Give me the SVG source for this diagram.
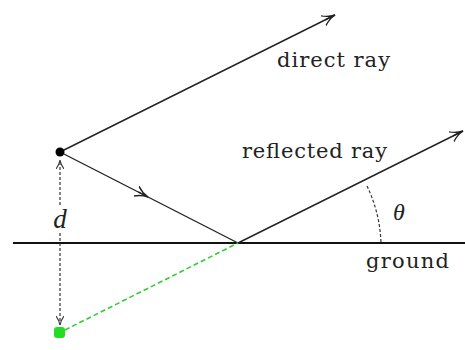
<svg xmlns="http://www.w3.org/2000/svg" width="465" height="350" viewBox="0 0 465 350">
<style>
.ray{stroke:#222;stroke-width:1.4;fill:none}
.dash{stroke:#333;stroke-width:1.2;fill:none;stroke-dasharray:3 2}
.lbl{font-family:"DejaVu Serif","Liberation Serif",serif;font-size:21px;fill:#222}
.it{font-family:"Liberation Serif","DejaVu Serif",serif;font-style:italic;fill:#222}
</style>
<defs>
<marker id="ah" viewBox="0 0 14 12" refX="13" refY="6" markerWidth="14" markerHeight="12" markerUnits="userSpaceOnUse" orient="auto">
<path d="M0,0.5 Q6,5 13,6 Q6,7 0,11.5 M2,6 L13,6" fill="none" stroke="#222" stroke-width="1.4"/>
</marker>
<marker id="ahs" viewBox="0 0 10 8" refX="9" refY="4" markerWidth="10" markerHeight="8" markerUnits="userSpaceOnUse" orient="auto">
<path d="M0,0 Q4,3 9,4 Q4,5 0,8" fill="none" stroke="#333" stroke-width="1.1"/>
</marker>
</defs>
<rect width="465" height="350" fill="#fff"/>
<g id="ground">
<line x1="13" y1="243" x2="465" y2="243" stroke="#111" stroke-width="2"/>
<text class="lbl" x="366" y="268" textLength="83">ground</text>
</g>
<g id="connectors">
<line id="direct" class="ray" x1="60" y1="152" x2="335" y2="15" marker-end="url(#ah)"/>
<polyline id="incident" class="ray" points="60,152 148,197 238,243" marker-mid="url(#ah)"/>
<line id="reflected" class="ray" x1="238" y1="243" x2="463" y2="131" marker-end="url(#ah)"/>
<line id="image" x1="65" y1="330" x2="238" y2="243" stroke="#33cc33" stroke-width="1.6" stroke-dasharray="5 3"/>
<path id="angle" class="dash" d="M367,186 A142,142 0 0 1 381,243"/>
<line class="dash" x1="60" y1="205" x2="60" y2="160" marker-end="url(#ahs)"/>
<line class="dash" x1="60" y1="233" x2="60" y2="325" marker-end="url(#ahs)"/>
</g>
<g id="source">
<circle cx="60" cy="152" r="4.5" fill="#000"/>
</g>
<g id="image-source">
<rect x="54" y="327" width="11" height="11" rx="3" fill="#22dd22"/>
</g>
<g id="labels">
<text class="lbl" x="277" y="67" textLength="113">direct ray</text>
<text class="lbl" x="242" y="158" textLength="145">reflected ray</text>
<text class="it" x="60" y="228" font-size="27" text-anchor="middle">d</text>
<text class="it" x="399" y="220" font-size="24" text-anchor="middle">θ</text>
</g>
</svg>
